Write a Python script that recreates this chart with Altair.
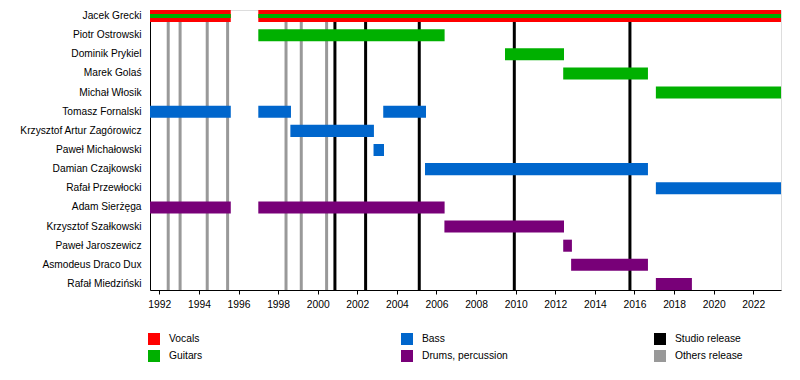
import altair as alt
import pandas as pd

# Members (top to bottom)
members = [
    "Jacek Grecki", "Piotr Ostrowski", "Dominik Prykiel", "Marek Golaś",
    "Michał Włosik", "Tomasz Fornalski", "Krzysztof Artur Zagórowicz",
    "Paweł Michałowski", "Damian Czajkowski", "Rafał Przewłocki",
    "Adam Sierżęga", "Krzysztof Szałkowski", "Paweł Jaroszewicz",
    "Asmodeus Draco Dux", "Rafał Miedziński",
]

START = 1991.53
END = 2023.40

# Member bars
bar_member = [
    "Jacek Grecki", "Jacek Grecki",
    "Piotr Ostrowski",
    "Dominik Prykiel",
    "Marek Golaś",
    "Michał Włosik",
    "Tomasz Fornalski", "Tomasz Fornalski", "Tomasz Fornalski",
    "Krzysztof Artur Zagórowicz",
    "Paweł Michałowski",
    "Damian Czajkowski",
    "Rafał Przewłocki",
    "Adam Sierżęga", "Adam Sierżęga",
    "Krzysztof Szałkowski",
    "Paweł Jaroszewicz",
    "Asmodeus Draco Dux",
    "Rafał Miedziński",
]
bar_start = [
    START, 1997.0,
    1997.0,
    2009.46,
    2012.40,
    2017.08,
    START, 1997.0, 2003.31,
    1998.62,
    2002.82,
    2005.42,
    2017.08,
    START, 1997.0,
    2006.40,
    2012.40,
    2012.80,
    2017.08,
]
bar_end = [
    1995.61, END,
    2006.41,
    2012.44,
    2016.68,
    END,
    1995.61, 1998.65, 2005.47,
    2002.84,
    2003.35,
    2016.68,
    END,
    1995.61, 2006.41,
    2012.44,
    2012.84,
    2016.68,
    2018.90,
]
bar_role = [
    "Vocals", "Vocals",
    "Guitars",
    "Guitars",
    "Guitars",
    "Guitars",
    "Bass", "Bass", "Bass",
    "Bass",
    "Bass",
    "Bass",
    "Bass",
    "Drums, percussion", "Drums, percussion",
    "Drums, percussion",
    "Drums, percussion",
    "Drums, percussion",
    "Drums, percussion",
]

# Secondary (thin) role stripes
stripe_member = ["Jacek Grecki", "Jacek Grecki"]
stripe_start = [START, 1997.0]
stripe_end = [1995.61, END]
stripe_role = ["Guitars", "Guitars"]

# Release lines
studio_releases = [2000.87, 2002.42, 2005.13, 2009.93, 2015.77]
other_releases = [1992.45, 1993.05, 1994.42, 1995.45, 1998.40, 1999.17, 2000.45]

legend_order = ["Vocals", "Guitars", "Bass", "Drums, percussion", "Studio release", "Others release"]
legend_colors = ["#FF0000", "#00B000", "#0066CC", "#780078", "#000000", "#999999"]

tick_years = list(range(1992, 2024))

FONT = "Liberation Sans"

bars_df = pd.DataFrame({"member": bar_member, "start": bar_start, "end": bar_end, "role": bar_role})
stripe_df = pd.DataFrame({"member": stripe_member, "start": stripe_start, "end": stripe_end, "role": stripe_role})
studio_df = pd.DataFrame({"year": studio_releases})
other_df = pd.DataFrame({"year": other_releases})

xscale = alt.Scale(domain=[START, END], nice=False, zero=False)
xaxis = alt.Axis(
    values=tick_years, format="d", title=None, grid=False,
    labelExpr="datum.value % 2 == 0 ? datum.label : ''",
    labelOverlap=False, labelFlush=False, tickSize=4, tickColor="black",
    domainColor="black", labelColor="black", labelFontSize=10.3, labelFont=FONT,
    labelPadding=5,
)
yscale = alt.Scale(domain=members, paddingInner=0.37, paddingOuter=0)
yaxis = alt.Axis(
    title=None, ticks=False, labelPadding=9, domainColor="black", grid=False,
    labelColor="black", labelFontSize=10.2, labelFont=FONT, labelLimit=300,
)
cscale = alt.Scale(domain=legend_order, range=legend_colors)
legend = alt.Legend(
    title=None, orient="none", legendX=-2, legendY=323, columns=3,
    columnPadding=146, rowPadding=5, symbolType="square", symbolSize=144,
    symbolStrokeWidth=0, labelFontSize=10.3, labelFont=FONT, labelColor="black",
    labelOffset=9, gridAlign="all", padding=0, direction="vertical",
)

other_rules = alt.Chart(other_df).mark_rule(strokeWidth=3, color="#999999").encode(
    x=alt.X("year:Q", scale=xscale, axis=xaxis)
)
studio_rules = alt.Chart(studio_df).mark_rule(strokeWidth=3, color="#000000").encode(
    x=alt.X("year:Q", scale=xscale)
)
bars = alt.Chart(bars_df).mark_bar(cornerRadius=0).encode(
    x=alt.X("start:Q", scale=xscale, axis=xaxis),
    x2="end:Q",
    y=alt.Y("member:N", scale=yscale, axis=yaxis, sort=members),
    color=alt.Color("role:N", scale=cscale, legend=legend),
)
stripes = alt.Chart(stripe_df).mark_bar(size=4).encode(
    x=alt.X("start:Q", scale=xscale),
    x2="end:Q",
    y=alt.Y("member:N", scale=yscale, sort=members),
    color=alt.Color("role:N", scale=cscale, legend=legend),
)

chart = alt.layer(other_rules, studio_rules, bars, stripes).properties(
    width=631, height=280,
    padding={"left": 142, "top": 2, "right": 11, "bottom": 80},
    autosize=alt.AutoSizeParams(type="none"),
).configure_view(stroke=None).configure(font=FONT)

chart.save("out.html", embed_options={"renderer": "svg", "actions": False})
